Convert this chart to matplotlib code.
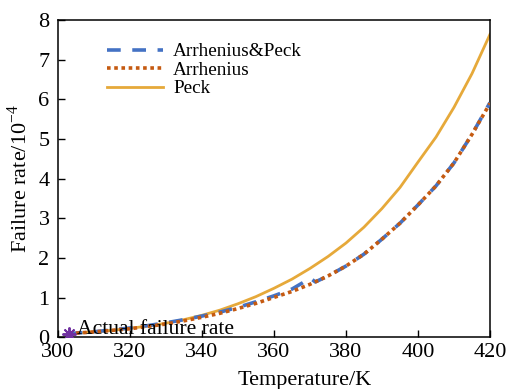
import matplotlib
matplotlib.use("Agg")
import matplotlib.pyplot as plt

plt.rcParams['font.family'] = ['Liberation Serif', 'DejaVu Serif']
plt.rcParams['mathtext.fontset'] = 'custom'
plt.rcParams['mathtext.rm'] = 'Liberation Serif'

# ---- data ----
temp_peck = [303, 305, 310, 315, 320, 325, 330, 335, 340, 345, 350, 355, 360,
             365, 370, 375, 380, 385, 390, 395, 400, 405, 410, 415, 420]
rate_peck = [0.10, 0.11, 0.14, 0.18, 0.23, 0.29, 0.36, 0.45, 0.56, 0.69, 0.85,
             1.03, 1.24, 1.47, 1.74, 2.04, 2.38, 2.78, 3.25, 3.78, 4.42, 5.05,
             5.80, 6.65, 7.64]

temp_arr = [303, 305, 310, 315, 320, 325, 330, 335, 340, 345, 350, 355, 360,
            365, 370, 375, 380, 385, 390, 395, 400, 405, 410, 415, 420]
rate_arr = [0.10, 0.11, 0.14, 0.18, 0.22, 0.28, 0.34, 0.42, 0.51, 0.61, 0.73,
            0.86, 1.01, 1.16, 1.34, 1.55, 1.80, 2.10, 2.48, 2.88, 3.34, 3.82,
            4.40, 5.12, 5.90]

temp_ap = [303, 305, 310, 315, 320, 325, 330, 335, 340, 345, 350, 355, 360,
           365, 368, 370, 371.5, 375, 380, 385, 390, 395, 400, 405, 410, 415, 420]
rate_ap = [0.10, 0.11, 0.145, 0.19, 0.24, 0.30, 0.37, 0.45, 0.54, 0.64, 0.76,
           0.90, 1.05, 1.22, 1.38, 1.50, 1.40, 1.55, 1.80, 2.10, 2.48, 2.88,
           3.34, 3.82, 4.40, 5.12, 5.92]

actual_temp = [303]
actual_rate = [0.10]

xticks = [300, 320, 340, 360, 380, 400, 420]
yticks = [0, 1, 2, 3, 4, 5, 6, 7, 8]

c_ap = '#4472C4'
c_arr = '#C55A11'
c_peck = '#E6A93A'
c_act = '#7030A0'

fig = plt.figure(figsize=(5.08, 3.89), dpi=100)
ax = fig.add_axes([0.114, 0.1324, 0.8506, 0.8162])

ax.plot(temp_ap, rate_ap, color=c_ap, lw=2.6, ls=(0, (3.8, 3.2)),
        label='Arrhenius&Peck', zorder=3)
ax.plot(temp_arr, rate_arr, color=c_arr, lw=2.6, ls=(0, (1, 1)),
        label='Arrhenius', zorder=4)
ax.plot(temp_peck, rate_peck, color=c_peck, lw=2.0, label='Peck', zorder=2)
ax.plot(actual_temp, actual_rate, ls='none', marker=(8, 2, 0), ms=10,
        mec=c_act, mew=1.4, color=c_act, zorder=5)
ax.text(305.3, 0.08, 'Actual failure rate', fontsize=15.6, va='baseline',
        ha='left', zorder=6)

ax.set_xlim(300, 420)
ax.set_ylim(0, 8)
ax.set_xticks(xticks)
ax.set_yticks(yticks)
ax.tick_params(axis='both', direction='in', length=5, width=1, labelsize=16,
               top=False, right=False)
ax.tick_params(axis='x', pad=4)
ax.tick_params(axis='y', pad=6)
for s in ax.spines.values():
    s.set_linewidth(1.1)

ax.set_xlabel('Temperature/K', fontsize=16, labelpad=0)
ax.set_ylabel('Failure rate/10$^{-4}$', fontsize=16, labelpad=4)
ax.xaxis.set_label_coords(0.572, -0.105)
ax.yaxis.set_label_coords(-0.061, 0.5)

leg = ax.legend(loc='upper left', bbox_to_anchor=(0.095, 0.952), frameon=False,
                fontsize=13.9, handlelength=2.9, handletextpad=0.55,
                labelspacing=0.05, borderaxespad=0)

fig.savefig('out.png', dpi=100)
